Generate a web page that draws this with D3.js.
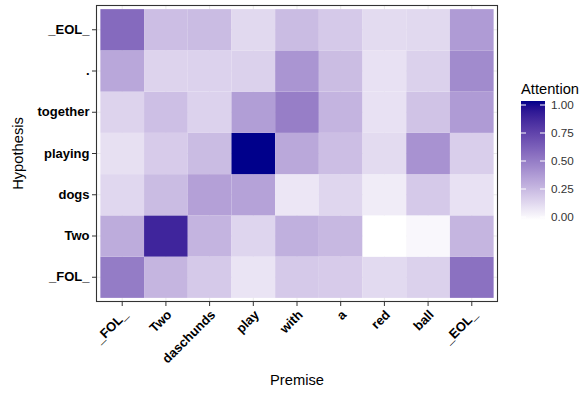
<!DOCTYPE html>
<html>
<head>
<meta charset="utf-8">
<script src="https://cdn.jsdelivr.net/npm/d3@7"></script>
<style>
  body { margin: 0; background: #fff; }
  text { font-family: "Liberation Sans", Arial, sans-serif; }
</style>
</head>
<body>
<script>
// premise tokens (x) and hypothesis tokens (y, bottom to top)
const premise = ['_FOL_', 'Two', 'daschunds', 'play', 'with', 'a', 'red', 'ball', '_EOL_'];
const hypothesis = ['_FOL_', 'Two', 'dogs', 'playing', 'together', '.', '_EOL_'];

// attention weights, one row per hypothesis token
const attFOL      = [0.50, 0.275, 0.20, 0.10, 0.20, 0.19, 0.135, 0.17, 0.545];
const attTwo      = [0.31, 0.86, 0.28, 0.155, 0.295, 0.265, 0.00, 0.03, 0.275];
const attDogs     = [0.145, 0.25, 0.355, 0.35, 0.09, 0.15, 0.07, 0.20, 0.11];
const attPlaying  = [0.115, 0.19, 0.25, 1.00, 0.325, 0.24, 0.13, 0.41, 0.18];
const attTogether = [0.16, 0.235, 0.165, 0.365, 0.49, 0.28, 0.11, 0.22, 0.375];
const attDot      = [0.33, 0.16, 0.165, 0.17, 0.40, 0.245, 0.11, 0.17, 0.44];
const attEOL      = [0.57, 0.24, 0.25, 0.14, 0.25, 0.20, 0.13, 0.14, 0.375];

const legendTicks = [0, 0.25, 0.5, 0.75, 1];

const rows = [attFOL, attTwo, attDogs, attPlaying, attTogether, attDot, attEOL];
let cells = [];
rows.forEach(function (vals, i) {
    vals.forEach(function (v, j) {
        cells.push({ x: premise[j], y: hypothesis[i], value: v });
    });
});

let width = 581, height = 394;
let svg = d3.select('body').append('svg')
    .attr('width', width).attr('height', height);

//---------- panel -----------
let panel = { left: 96, right: 498, top: 5, bottom: 302 };

let x = d3.scaleBand()
    .domain(premise)
    .range([panel.left, panel.right])
    .paddingOuter(0.1)
    .paddingInner(0);
let y = d3.scaleBand()
    .domain(hypothesis.slice().reverse())
    .range([panel.top, panel.bottom])
    .paddingOuter(0.1)
    .paddingInner(0);

let color = d3.scaleLinear()
    .domain([0, 1])
    .range(['white', 'darkblue'])
    .interpolate(d3.interpolateLab);

svg.append('rect')
    .attr('x', panel.left).attr('y', panel.top)
    .attr('width', panel.right - panel.left)
    .attr('height', panel.bottom - panel.top)
    .attr('fill', 'white');

// grid lines
let grid = svg.append('g');
premise.forEach(function (p) {
    grid.append('line')
        .attr('x1', x(p) + x.bandwidth() / 2).attr('x2', x(p) + x.bandwidth() / 2)
        .attr('y1', panel.top).attr('y2', panel.bottom)
        .attr('stroke', '#ebebeb').attr('stroke-width', 1);
});
hypothesis.forEach(function (h) {
    grid.append('line')
        .attr('y1', y(h) + y.bandwidth() / 2).attr('y2', y(h) + y.bandwidth() / 2)
        .attr('x1', panel.left).attr('x2', panel.right)
        .attr('stroke', '#ebebeb').attr('stroke-width', 1);
});

svg.append('g').selectAll('rect.tile')
    .data(cells)
    .enter().append('rect')
    .attr('class', 'tile')
    .attr('x', d => x(d.x))
    .attr('y', d => y(d.y))
    .attr('width', x.bandwidth())
    .attr('height', y.bandwidth())
    .attr('fill', d => color(d.value));

svg.append('rect')
    .attr('x', panel.left + 0.5).attr('y', panel.top + 0.5)
    .attr('width', panel.right - panel.left - 1)
    .attr('height', panel.bottom - panel.top - 1)
    .attr('fill', 'none').attr('stroke', '#333').attr('stroke-width', 1.1);

//---------- axes -----------
let xAxis = svg.append('g')
    .attr('transform', `translate(0,${panel.bottom})`)
    .call(d3.axisBottom(x).tickSize(4).tickPadding(2));
xAxis.select('.domain').remove();
xAxis.selectAll('.tick line').attr('stroke', '#333');
xAxis.selectAll('.tick text')
    .attr('fill', 'black')
    .style('font-size', '13px')
    .style('font-weight', 'bold')
    .attr('text-anchor', 'end')
    .attr('x', 0).attr('y', 0).attr('dy', '0.71em')
    .attr('transform', 'translate(0,7) rotate(-45)');

let yAxis = svg.append('g')
    .attr('transform', `translate(${panel.left},0)`)
    .call(d3.axisLeft(y).tickSize(4).tickPadding(2.5));
yAxis.select('.domain').remove();
yAxis.selectAll('.tick line').attr('stroke', '#333');
yAxis.selectAll('.tick text')
    .attr('fill', 'black')
    .style('font-size', '13px')
    .style('font-weight', 'bold');

svg.append('text')
    .attr('x', (panel.left + panel.right) / 2).attr('y', 385)
    .attr('text-anchor', 'middle')
    .style('font-size', '14.7px')
    .text('Premise');

svg.append('text')
    .attr('transform', `translate(22.5,${(panel.top + panel.bottom) / 2}) rotate(-90)`)
    .attr('text-anchor', 'middle')
    .style('font-size', '14.7px')
    .text('Hypothesis');

//---------- legend -----------
let leg = { x: 521, w: 24, top: 101, bottom: 220 };
let defs = svg.append('defs');
let grad = defs.append('linearGradient')
    .attr('id', 'attgrad')
    .attr('x1', 0).attr('x2', 0).attr('y1', 1).attr('y2', 0);
d3.range(0, 1.0001, 0.05).forEach(function (t) {
    grad.append('stop').attr('offset', t).attr('stop-color', color(t));
});
svg.append('rect')
    .attr('x', leg.x).attr('y', leg.top)
    .attr('width', leg.w).attr('height', leg.bottom - leg.top)
    .attr('fill', 'url(#attgrad)');

let ly = d3.scaleLinear().domain([0, 1]).range([leg.bottom - 3, leg.top + 4]);
let lg = svg.append('g');
legendTicks.forEach(function (t) {
    lg.append('line')
        .attr('x1', leg.x).attr('x2', leg.x + 5)
        .attr('y1', ly(t)).attr('y2', ly(t))
        .attr('stroke', 'white').attr('stroke-width', 1);
    lg.append('line')
        .attr('x1', leg.x + leg.w - 5).attr('x2', leg.x + leg.w)
        .attr('y1', ly(t)).attr('y2', ly(t))
        .attr('stroke', 'white').attr('stroke-width', 1);
    lg.append('text')
        .attr('x', leg.x + leg.w + 6).attr('y', ly(t))
        .attr('dy', '0.35em')
        .style('font-size', '11.7px')
        .attr('fill', '#333')
        .text(t.toFixed(2));
});
svg.append('text')
    .attr('x', leg.x).attr('y', 94)
    .style('font-size', '14.7px')
    .text('Attention');
</script>
</body>
</html>
